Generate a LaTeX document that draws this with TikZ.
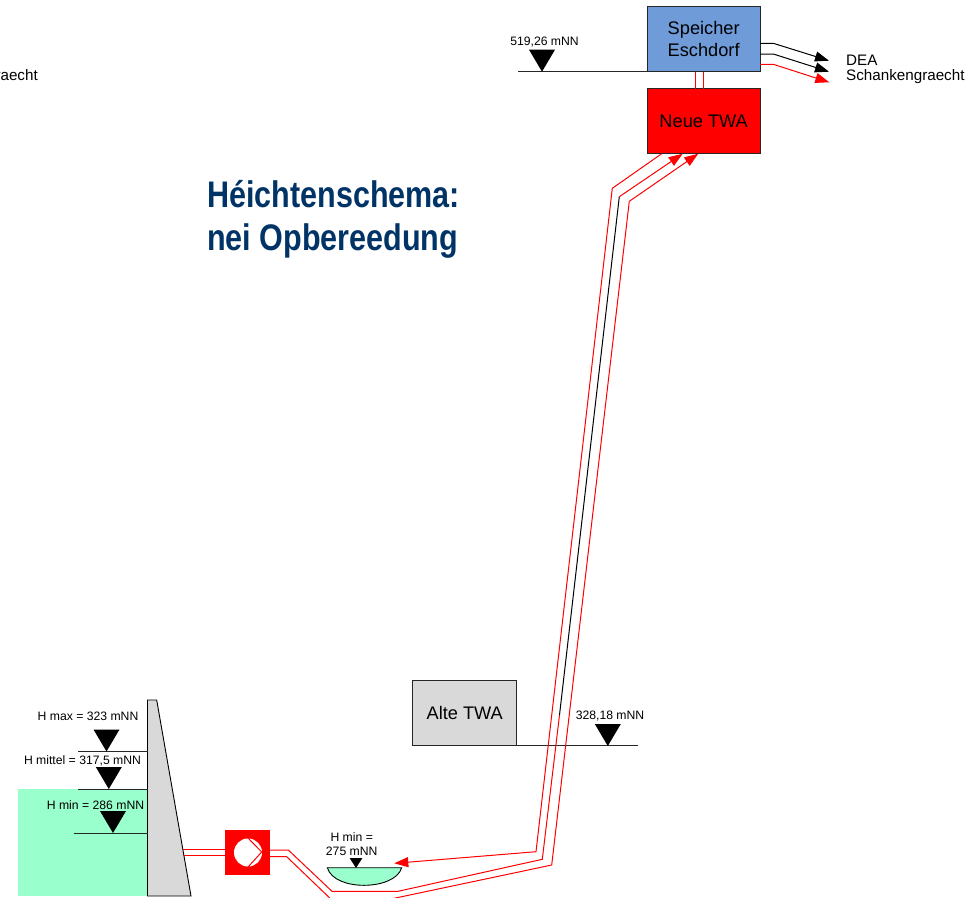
\documentclass[tikz,border=0pt]{standalone}
\usepackage{fontspec}
\setmainfont{Liberation Sans}
\newfontfamily\titelfont[FakeStretch=0.825]{Liberation Sans}
\usetikzlibrary{positioning, arrows.meta, calc}
\definecolor{wasser}{HTML}{99FFCC}
\definecolor{speicherblau}{HTML}{6F9BD9}
\definecolor{grau}{HTML}{D9D9D9}
\definecolor{titelblau}{HTML}{003366}

\begin{document}
\begin{tikzpicture}[x=1pt, y=-1pt, >={Stealth[inset=0pt,length=14pt,width=10pt]}]
    % Styles
    \tikzstyle{block} = [rectangle, draw=black!85, line width=0.9pt, minimum width=112.7pt,
    minimum height=65pt, align=center, inner sep=0pt, outer sep=0pt, font=\fontsize{18.2}{22.5}\selectfont]
    \tikzstyle{level} = [inner sep=0pt, font=\fontsize{12.2}{14}\selectfont]
    \tikzstyle{label} = [inner sep=0pt, anchor=base west, font=\fontsize{15.2}{15}\selectfont]
    \tikzstyle{niveau} = [line width=0.9pt, black!85]
    \tikzstyle{pipe} = [line width=1pt, red]
    \tikzstyle{feed} = [line width=1pt, black]
    \useasboundingbox (0,0) rectangle (971,897);

    % Water and dam
    \fill [wasser] (18,789) rectangle (147.5,896);
    \node [label] (cut) at (-4.7,80.8) {raecht};
    \draw [line width=0.9pt, fill=grau] (147.5,700) -- (156.7,700) -- (191,896) -- (147.5,896) -- cycle;
    \coordinate (damout1) at (183.3,849.3);
    \coordinate (damout2) at (184.4,855.7);

    % Nodes
    \node [block, fill=speicherblau, anchor=north west] (speicher) at (647.3,6.7) {Speicher\\Eschdorf};
    \node [block, fill=red, below=17pt of speicher] (neue) {Neue TWA};
    \node [block, fill=grau, minimum width=104pt, anchor=north west] (alte) at (412.7,680.7) {Alte TWA};
    \node [rectangle, fill=red, minimum size=44.5pt, inner sep=0pt] (pump) at (247.6,852.5) {};
    \node [circle, fill=white, minimum size=28pt, inner sep=0pt] (rad) at (248,852.5) {};

    % Labels
    \node [level] (hmax) at (88,716.5) {H max = 323 mNN};
    \node [level] (hmittel) at (82.5,761) {H mittel = 317,5 mNN};
    \node [level] (hmin) at (95.5,805) {H min = 286 mNN};
    \node [level, align=center] (hpond) at (351.7,843.7) {H min =\\275 mNN};
    \node [level] (alt) at (610,716.5) {328,18 mNN};
    \node [level] (ober) at (544.5,42) {519,26 mNN};
    \node [label] (dea) at (846,65.5) {DEA};
    \node [label] (schanken) at (846,80.8) {Schankengraecht};
    \node [inner sep=0pt, anchor=west, align=left, text=titelblau,
    font=\fontsize{37}{43}\titelfont\bfseries] (titel) at (207,219) {Héichtenschema:\\nei Opbereedung};

    % Level lines
    \draw [niveau] (78,751.5) -- (147.5,751.5);
    \draw [niveau] (78,789) -- (147.5,789);
    \draw [niveau] (73.5,833) -- (147.5,833);
    \draw [niveau] (speicher.south west) -- (518.3,71.7);
    \draw [niveau] (alte.south east) -- (638,745.7);

    % Triangles
    \fill (106.5,751.5) -- ++(-13,-22) -- ++(26,0) -- cycle;
    \fill (108.8,789) -- ++(-13,-22) -- ++(26,0) -- cycle;
    \fill (113,833) -- ++(-13,-22) -- ++(26,0) -- cycle;
    \fill (542,71.7) -- ++(-13,-22) -- ++(26,0) -- cycle;
    \fill (607.8,746) -- ++(-13,-22) -- ++(26,0) -- cycle;

    % Pond
    \draw [line width=0.9pt, fill=wasser] (327.3,867.7) -- (401.7,867.7)
    .. controls (398,880) and (380,885.3) .. (364,885.3)
    .. controls (348,885.3) and (331,880) .. (327.3,867.7) -- cycle;
    \fill (356,868) -- ++(-6.4,-10) -- ++(12.8,0) -- cycle;

    % Pump
    \draw [pipe] (248.3,838.3) -- (261.7,852) -- (248.3,866.7);
    \draw [pipe] (damout1) -- (pump.west |- damout1);
    \draw [pipe] (damout2) -- (pump.west |- damout2);

    % Pipes
    \draw [pipe] (pump.east |- 0,850) -- (288.3,850) -- (332,891.3) -- (398,891.3)
    -- (542.3,859.3) -- (559.5,715);
    \draw [feed] (559.5,715) -- (619.3,196.7);
    \draw [pipe, ->] (619.3,196.7) -- (neue.south -| 682.7,0);
    \draw [pipe] (pump.east |- 0,856.7) -- (286.7,856.7) -- (330.8,899) -- (390.8,899)
    -- (551.7,865) -- (629.3,201.3);
    \draw [pipe, ->] (629.3,201.3) -- (neue.south -| 698.3,0);
    \draw [pipe] (neue.south -| 661.7,0) -- (612.3,188.3) -- (536,851.7);
    \draw [pipe, ->] (536,851.7) -- (394.3,863.3);

    % Speicher
    \draw [pipe] (speicher.south -| 695,0) -- (neue.north -| 695,0);
    \draw [pipe] (speicher.south -| 703.3,0) -- (neue.north -| 703.3,0);
    \draw [feed, ->] (speicher.east |- 0,43.3) -- (773.3,43.3) -- (829,60.7);
    \draw [feed, ->] (speicher.east |- 0,54) -- (773.3,54) -- (829,71.7);
    \draw [pipe, ->] (speicher.east |- 0,64.3) -- (773.3,64.3) -- (829.3,82.3);
\end{tikzpicture}
\end{document}
